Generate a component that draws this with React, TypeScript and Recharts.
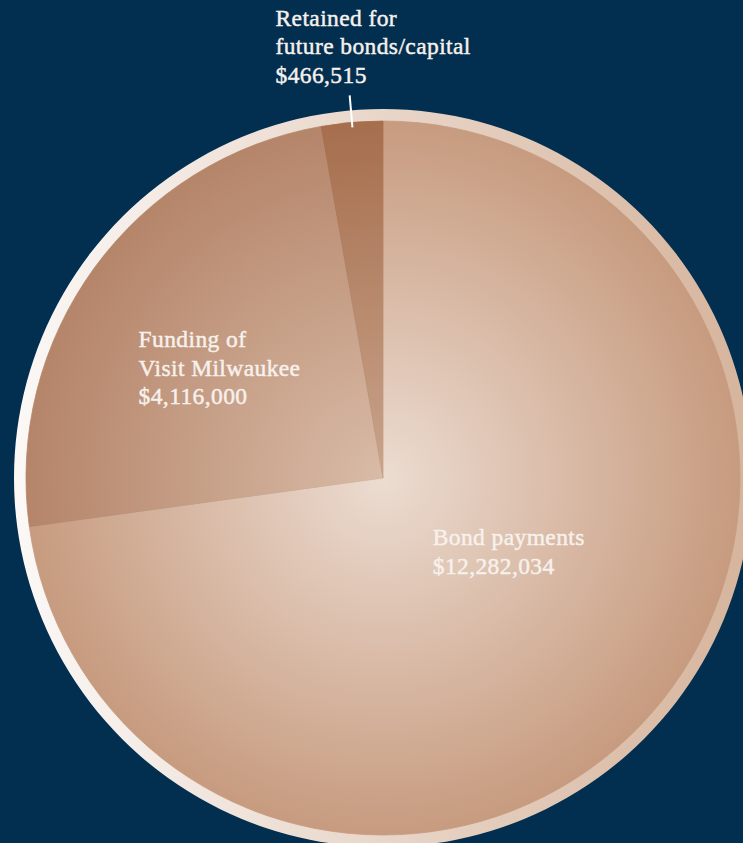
import React from "react";
import { PieChart, Pie, Cell } from "recharts";

const names = ["Bond payments", "Funding of\nVisit Milwaukee", "Retained for\nfuture bonds/capital"];
const values = [12282034, 4116000, 466515];
const fills = ["url(#gBond)", "url(#gVisit)", "url(#gRet)"];
// label layout per slice: radius along midAngle, x offset, first baseline offset, leader line
const labelR = [66, 206, 386];
const labelDx = [0, -78, -74];
const labelDy = [24, -9.5, -67.5];
const hasLine = [false, false, true];

const data = names.map((n, i) => ({ name: n, value: values[i] }));
const ringData = [{ name: "ring", value: 1 }];

const W = 743;
const H = 843;
const CX = 383;
const CY = 478;
const RAD = Math.PI / 180;

const renderLabel = (props: any) => {
  const { cx, cy, midAngle, outerRadius, index } = props;
  const r = labelR[index];
  const px = cx + r * Math.cos(-midAngle * RAD);
  const py = cy + r * Math.sin(-midAngle * RAD);
  const lines = [...names[index].split("\n"), "$" + values[index].toLocaleString("en-US")];
  const x = px + labelDx[index];
  const y0 = py + labelDy[index];
  const l1 = outerRadius - 5;
  const l2 = r - 2;
  return (
    <g key={"lab" + index}>
      {hasLine[index] && (
        <line
          x1={cx + l1 * Math.cos(-midAngle * RAD)}
          y1={cy + l1 * Math.sin(-midAngle * RAD)}
          x2={cx + l2 * Math.cos(-midAngle * RAD)}
          y2={cy + l2 * Math.sin(-midAngle * RAD)}
          stroke="#ffffff"
          strokeWidth={2}
        />
      )}
      <text
        x={x}
        y={y0}
        fill="#f7f1ec"
        stroke="#f7f1ec"
        strokeWidth={0.45}
        fontFamily="'Liberation Serif', serif"
        fontSize={23.5}
        letterSpacing={0.4}
        textAnchor="start"
      >
        {lines.map((t, k) => (
          <tspan key={k} x={x} y={y0 + k * 28.5}>
            {t}
          </tspan>
        ))}
      </text>
    </g>
  );
};

export default function App() {
  return (
    <div style={{ position: "fixed", left: 0, top: 0, width: W, height: H, background: "#022e50", overflow: "hidden" }}>
      <svg width={0} height={0} style={{ position: "absolute" }}>
        <defs>
          <radialGradient id="gBond" gradientUnits="userSpaceOnUse" cx={CX} cy={CY} r={357}>
            <stop offset="0%" stopColor="#ecdcd1" />
            <stop offset="100%" stopColor="#c79b7f" />
          </radialGradient>
          <radialGradient id="gVisit" gradientUnits="userSpaceOnUse" cx={CX} cy={CY} r={357}>
            <stop offset="0%" stopColor="#d9bba7" />
            <stop offset="100%" stopColor="#b5856a" />
          </radialGradient>
          <radialGradient id="gRet" gradientUnits="userSpaceOnUse" cx={CX} cy={CY} r={357}>
            <stop offset="0%" stopColor="#c9a48c" />
            <stop offset="100%" stopColor="#a66e4d" />
          </radialGradient>
          <linearGradient id="gRing" gradientUnits="userSpaceOnUse" x1={14} y1={0} x2={752} y2={0}>
            <stop offset="0%" stopColor="#fbf8f6" />
            <stop offset="100%" stopColor="#d6b49c" />
          </linearGradient>
        </defs>
      </svg>
      <PieChart width={W} height={H} margin={{ top: 0, right: 0, bottom: 0, left: 0 }}>
        <Pie
          data={ringData}
          dataKey="value"
          cx={CX}
          cy={CY}
          innerRadius={356}
          outerRadius={369}
          startAngle={90}
          endAngle={-270}
          stroke="none"
          isAnimationActive={false}
        >
          <Cell fill="url(#gRing)" stroke="none" />
        </Pie>
        <Pie
          data={data}
          dataKey="value"
          cx={CX}
          cy={CY}
          innerRadius={0}
          outerRadius={357}
          startAngle={90}
          endAngle={-270}
          label={renderLabel}
          labelLine={false}
          isAnimationActive={false}
        >
          {data.map((d, i) => (
            <Cell key={i} fill={fills[i]} stroke={fills[i]} strokeWidth={0.8} />
          ))}
        </Pie>
      </PieChart>
    </div>
  );
}
